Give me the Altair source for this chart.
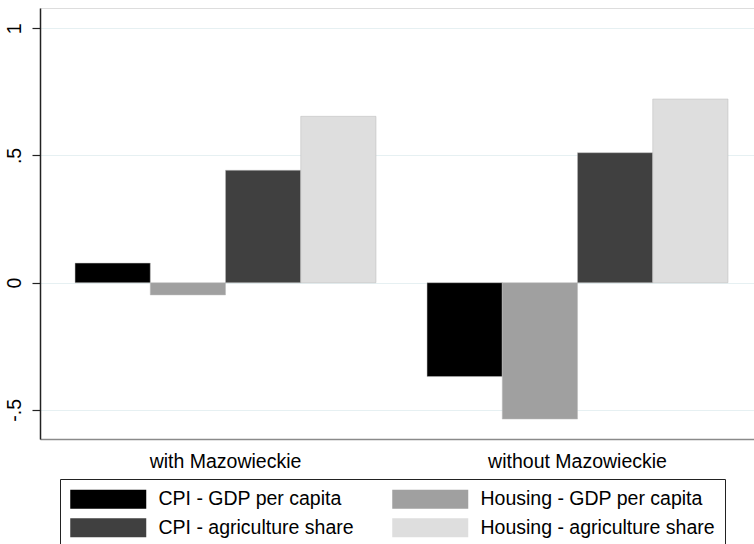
import altair as alt
import pandas as pd

# Group labels, series names and bar values
groups = ["with Mazowieckie", "without Mazowieckie"]
series = [
    "CPI - GDP per capita",
    "Housing - GDP per capita",
    "CPI - agriculture share",
    "Housing - agriculture share",
]
with_vals = [0.077, -0.048, 0.442, 0.654]
without_vals = [-0.369, -0.536, 0.511, 0.722]
colors = ["#000000", "#a0a0a0", "#404040", "#dedede"]

# y-axis tick values and their printed labels
y_ticks = [-0.5, 0, 0.5, 1]
y_tick_labels = ["-.5", "0", ".5", "1"]

rows = []
for g, vals in zip(groups, [with_vals, without_vals]):
    for s, v in zip(series, vals):
        rows.append({"group": g, "series": s, "value": v})
df = pd.DataFrame(rows)

FONT = "Liberation Sans"

# wide rectangle swatch for the legend (scaled by sqrt(size)/2)
swatch = "M-1,-1H7V1H-1Z"

label_expr = " : ".join(
    f"datum.value == {v} ? '{t}'" for v, t in zip(y_ticks, y_tick_labels)
) + " : datum.label"

chart = (
    alt.Chart(df)
    .mark_bar(stroke="#bbbbbb", strokeWidth=0.5)
    .encode(
        x=alt.X(
            "group:N",
            sort=groups,
            scale=alt.Scale(paddingInner=0.145, paddingOuter=0.0867, align=0.574),
            axis=alt.Axis(
                title=None,
                labelAngle=0,
                ticks=False,
                labelFontSize=19.5,
                labelFont=FONT,
                labelColor="#000000",
                labelPadding=13,
                domainColor="#8a8a8a",
                domainWidth=1.5,
                grid=False,
            ),
        ),
        xOffset=alt.XOffset(
            "series:N", sort=series, scale=alt.Scale(paddingInner=0, paddingOuter=0)
        ),
        y=alt.Y(
            "value:Q",
            scale=alt.Scale(domain=[-0.6144, 1.0798], nice=False, zero=False),
            axis=alt.Axis(
                title=None,
                values=y_ticks,
                labelExpr=label_expr,
                labelAngle=270,
                labelAlign="center",
                labelBaseline="bottom",
                labelFontSize=19.5,
                labelFont=FONT,
                labelColor="#000000",
                labelPadding=8,
                tickSize=8,
                tickColor="#222222",
                tickWidth=1.2,
                domainColor="#222222",
                domainWidth=1.5,
                grid=True,
                gridColor="#e6f0f2",
                gridWidth=1.2,
            ),
        ),
        color=alt.Color(
            "series:N",
            sort=series,
            scale=alt.Scale(domain=series, range=colors),
            legend=alt.Legend(
                title=None,
                orient="none",
                legendX=20,
                legendY=471,
                columns=2,
                direction="horizontal",
                symbolType=swatch,
                symbolSize=361,
                symbolStrokeWidth=0,
                symbolOpacity=1,
                labelOffset=69,
                labelFontSize=19.5,
                labelFont=FONT,
                labelColor="#000000",
                labelLimit=400,
                rowPadding=8,
                columnPadding=38,
                padding=10,
                strokeColor="#222222",
                fillColor="#ffffff",
            ),
        ),
    )
    .properties(
        width=714,
        height=431,
        autosize=alt.AutoSizeParams(type="none"),
        padding={"left": 40, "top": 8, "right": 0, "bottom": 105},
    )
    .configure_view(stroke=None)
    .configure(background="#ffffff")
)

chart.save("out.html", embed_options={"renderer": "svg", "actions": False})
